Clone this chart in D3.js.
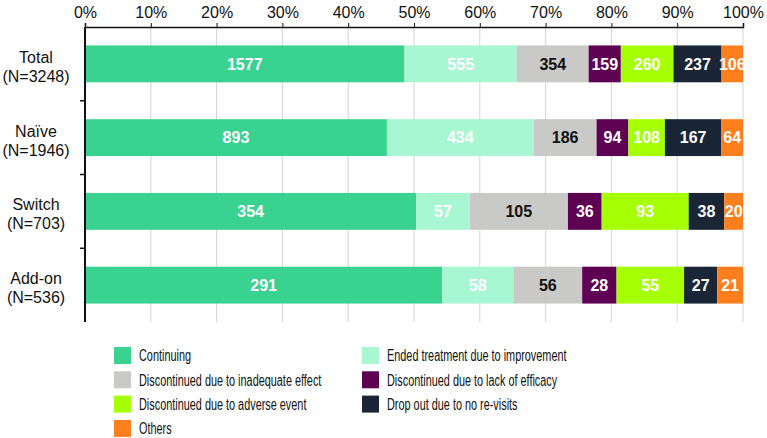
<!DOCTYPE html>
<html>
<head>
<meta charset="utf-8">
<script src="https://cdn.jsdelivr.net/npm/d3@7"></script>
<style>
  body { margin: 0; background: #fff; }
  text { font-family: "Liberation Sans", Arial, sans-serif; }
</style>
</head>
<body>
<script>
var groups = ['Total', 'Naïve', 'Switch', 'Add-on'];
var groupN = [3248, 1946, 703, 536];
var series = [
  'Continuing',
  'Ended treatment due to improvement',
  'Discontinued due to inadequate effect',
  'Discontinued due to lack of efficacy',
  'Discontinued due to adverse event',
  'Drop out due to no re-visits',
  'Others'
];
var colors = ['#3ad291', '#a9f7d2', '#c9c9c7', '#5e0153', '#a6ff03', '#1a2536', '#ff7f1f'];
var labelColors = ['#fff', '#fff', '#111', '#fff', '#fff', '#fff', '#fff'];
var counts = [
  [1577, 555, 354, 159, 260, 237, 106],
  [893, 434, 186, 94, 108, 167, 64],
  [354, 57, 105, 36, 93, 38, 20],
  [291, 58, 56, 28, 55, 27, 21]
];
var ticks = [0, 10, 20, 30, 40, 50, 60, 70, 80, 90, 100];

var width = 767;
var height = 438;
var plotLeft = 85, plotRight = 743, plotTop = 27, plotBottom = 322;

var svg = d3.select('body').append('svg')
  .attr('width', width)
  .attr('height', height);

var x = d3.scaleLinear().domain([0, 100]).range([plotLeft, plotRight]);
var y = d3.scaleBand().domain(groups).range([plotTop, plotBottom]).paddingInner(0.5).paddingOuter(0.25);

// grid
svg.selectAll('.grid')
  .data(ticks.slice(1))
  .enter().append('line')
  .attr('x1', function(d) { return x(d); })
  .attr('x2', function(d) { return x(d); })
  .attr('y1', plotTop)
  .attr('y2', plotBottom)
  .attr('stroke', '#d4d4d4')
  .attr('stroke-width', 1);

// stacked bars
var rows = [];
for (var i = 0; i < groups.length; i++) {
  var total = d3.sum(counts[i]);
  var acc = 0;
  for (var j = 0; j < series.length; j++) {
    var p = counts[i][j] / total * 100;
    rows.push({ group: groups[i], s: j, v: counts[i][j], x0: acc, x1: acc + p });
    acc += p;
  }
}

svg.selectAll('.bar')
  .data(rows)
  .enter().append('rect')
  .attr('x', function(d) { return x(d.x0); })
  .attr('width', function(d) { return x(d.x1) - x(d.x0); })
  .attr('y', function(d) { return y(d.group); })
  .attr('height', y.bandwidth())
  .attr('fill', function(d) { return colors[d.s]; });

svg.selectAll('.val')
  .data(rows)
  .enter().append('text')
  .attr('x', function(d) { return (x(d.x0) + x(d.x1)) / 2; })
  .attr('y', function(d) { return y(d.group) + y.bandwidth() / 2; })
  .attr('dy', '0.36em')
  .attr('text-anchor', 'middle')
  .attr('font-size', 16)
  .attr('font-weight', 'bold')
  .attr('fill', function(d) { return labelColors[d.s]; })
  .text(function(d) { return d.v; });

// top axis
var xAxis = d3.axisTop(x)
  .tickValues(ticks)
  .tickFormat(function(d) { return d + '%'; })
  .tickSize(4)
  .tickPadding(5);
var gx = svg.append('g').attr('transform', 'translate(0,' + plotTop + ')').call(xAxis);
gx.select('.domain').attr('stroke', '#111').attr('stroke-width', 1.5);
gx.selectAll('.tick line').attr('stroke', '#111');
gx.selectAll('.tick text')
  .attr('font-size', 16)
  .attr('fill', '#111')
  .style('font-family', '"Liberation Sans", Arial, sans-serif');

// left axis
svg.append('line')
  .attr('x1', plotLeft).attr('x2', plotLeft)
  .attr('y1', plotTop).attr('y2', plotBottom)
  .attr('stroke', '#111').attr('stroke-width', 2);

var bounds = d3.range(1, groups.length).map(function(k) { return plotTop + k * (plotBottom - plotTop) / groups.length; });
svg.selectAll('.ytick')
  .data(bounds)
  .enter().append('line')
  .attr('x1', plotLeft - 5).attr('x2', plotLeft)
  .attr('y1', function(d) { return d; })
  .attr('y2', function(d) { return d; })
  .attr('stroke', '#111').attr('stroke-width', 1.5);

var cat = svg.selectAll('.cat')
  .data(groups)
  .enter().append('text')
  .attr('text-anchor', 'middle')
  .attr('font-size', 16)
  .attr('fill', '#111');
cat.append('tspan')
  .attr('x', 36)
  .attr('y', function(d) { return y(d) + y.bandwidth() / 2 - 1; })
  .text(function(d) { return d; });
cat.append('tspan')
  .attr('x', 36)
  .attr('y', function(d) { return y(d) + y.bandwidth() / 2 + 18; })
  .text(function(d, i) { return '(N=' + groupN[i] + ')'; });

// legend
var legend = svg.selectAll('.leg')
  .data(series)
  .enter().append('g')
  .attr('transform', function(d, i) {
    var col = i % 2, row = Math.floor(i / 2);
    return 'translate(' + (col === 0 ? 114 : 362) + ',' + (347 + row * 24.3) + ')';
  });
legend.append('rect')
  .attr('width', 17).attr('height', 17)
  .attr('fill', function(d, i) { return colors[i]; });
// no narrow font installed, so squeeze the regular one
legend.append('text')
  .attr('transform', 'translate(25,8.5) scale(0.68,1)')
  .attr('dy', '0.36em')
  .attr('font-size', 16)
  .attr('fill', '#111')
  .text(function(d) { return d; });
</script>
</body>
</html>
